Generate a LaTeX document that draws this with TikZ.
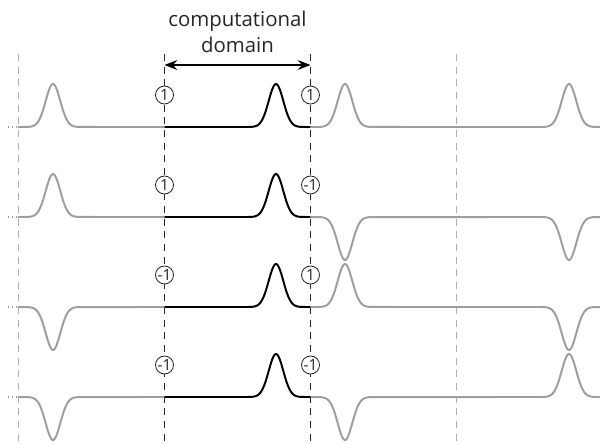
\documentclass[tikz,border=0pt]{standalone}
\usepackage{fontspec}
\setmainfont{Open Sans}
\usetikzlibrary{arrows.meta}

\definecolor{imagegray}{RGB}{158,158,158}
\definecolor{guidegray}{RGB}{175,175,175}

\newcommand\bcsigma{7.3}
\newcommand\bcamp{43}
\newcommand\bcleft{164.5}
\newcommand\bcright{310.5}
% one gaussian bump as a piece of path: centre, sign, baseline
\newcommand\bcbump[3]{-- plot[domain=#1-28:#1+28, samples=57, smooth]
  (\x, {#3 - #2*\bcamp*exp(-0.5*((\x-#1)/\bcsigma)^2)})}
% one row: baseline, left factor, right factor, name
\newcommand\bcrow[4]{
  \pgfmathsetmacro\bcprod{#2*#3}
  \draw[imagedots] (8, #1) -- (17, #1) ;
  \draw[imageline] (18, #1) \bcbump{53}{#2}{#1} -- (\bcleft, #1) ;
  \draw[domainline] (\bcleft, #1) -- (248, #1) \bcbump{276}{1}{#1} -- (\bcright, #1) ;
  \draw[imageline] (\bcright, #1) \bcbump{345}{#3}{#1} -- (541, #1)
    \bcbump{569}{\bcprod}{#1} -- (600, #1) ;
  \node[factor] (#4L) at (\bcleft, #1 - 32) {\makebox[0pt]{#2}} ;
  \node[factor] (#4R) at (\bcright, #1 - 32) {\makebox[0pt]{#3}} ;
}

\tikzset{
  imageline/.style={imagegray, line width=1.4pt},
  imagedots/.style={imagegray, line width=0.8pt, dotted},
  domainline/.style={black, line width=1.4pt},
  guideline/.style={guidegray, line width=0.7pt, dash pattern=on 5pt off 4pt},
  boundline/.style={black!85, line width=0.8pt, dash pattern=on 5pt off 4pt},
  factor/.style={circle, draw=black!85, fill=white, line width=0.6pt,
    minimum size=0.45cm, inner sep=0pt, text=black!85,
    font=\fontsize{11}{11}\selectfont},
}

\begin{document}
\begin{tikzpicture}[x=0.025cm, y=-0.025cm]
    \useasboundingbox (0, 0) rectangle (600, 443) ;
    % periodic copies and domain boundaries
    \draw[guideline] (18, 54) -- (18, 443) ;
    \draw[guideline] (456.5, 54) -- (456.5, 443) ;
    \draw[boundline] (\bcleft, 54) -- (\bcleft, 443) ;
    \draw[boundline] (\bcright, 54) -- (\bcright, 443) ;
    \coordinate (domL) at (\bcleft, 65) ;
    \coordinate (domR) at (\bcright, 65) ;
    \draw[black, line width=1.1pt, {Stealth[length=9pt, width=7pt]}-{Stealth[length=9pt, width=7pt]}] (domL) -- (domR) ;
    \node[align=center, font=\fontsize{14.5}{18}\selectfont, text=black!85] (title) at (237.5, 32) {computational\\domain} ;
    \bcrow{127}{1}{1}{a}
    \bcrow{217}{1}{-1}{b}
    \bcrow{307}{-1}{1}{c}
    \bcrow{397}{-1}{-1}{d}
\end{tikzpicture}
\end{document}
